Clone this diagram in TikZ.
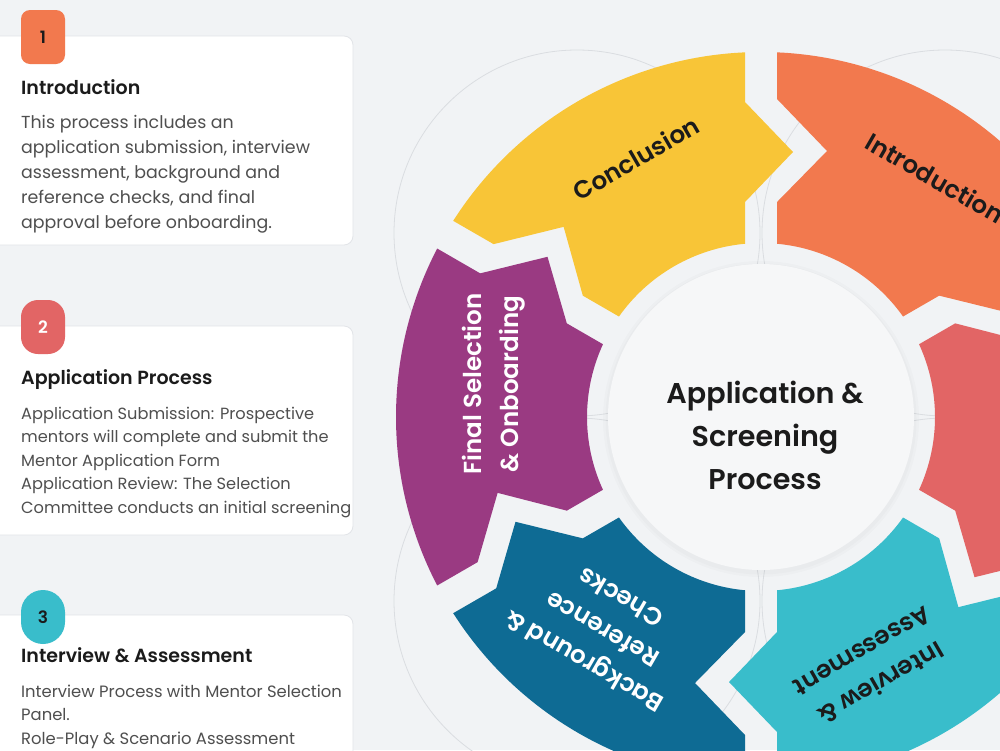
\documentclass[tikz,border=0pt]{standalone}
\usepackage{fontspec}
\setmainfont{Poppins}
\newfontfamily\popmed{Poppins Medium}
\newfontfamily\popsemi{Poppins SemiBold}
\usetikzlibrary{calc}
\definecolor{bg}{HTML}{F1F3F5}
\definecolor{ctrfill}{HTML}{F6F7F8}
\definecolor{cardline}{HTML}{E2E4E8}
\definecolor{faint}{HTML}{DADDE1}
\definecolor{cOrange}{HTML}{F2794E}
\definecolor{cYellow}{HTML}{F8C537}
\definecolor{cPurple}{HTML}{9A3A82}
\definecolor{cBlue}{HTML}{0E6B94}
\definecolor{cCyan}{HTML}{39BDCB}
\definecolor{cRed}{HTML}{E26565}
\definecolor{ink}{HTML}{1B1B1B}
\definecolor{bodyc}{HTML}{4F4F4F}
\tikzset{
  card/.style={fill=white, draw=cardline, line width=0.8pt, rounded corners=9pt},
  badge/.style={minimum width=44pt, minimum height=54pt, inner sep=0pt, font=\fontsize{17}{20}\selectfont\popsemi},
  ctitle/.style={anchor=base west, inner sep=0pt, font=\fontsize{19}{22}\selectfont\popsemi, text=ink},
  cbody/.style={anchor=north west, inner sep=0pt, align=left, text=bodyc},
  segtext/.style={font=\fontsize{24.6}{37}\selectfont\popsemi, align=center, inner sep=0pt},
  ctrtext/.style={font=\fontsize{28.6}{43}\selectfont\popsemi, align=center, inner sep=0pt, text=ink},
  faintc/.style={draw=faint, line width=0.8pt},
}
\begin{document}
\begin{tikzpicture}[x=1pt,y=-1pt]
\useasboundingbox (0,0) rectangle (1000,750);
\clip (0,0) rectangle (1000,750);
\fill[bg] (0,0) rectangle (1000,750);

% ---------- cards ----------
\draw[card] (-10,36) rectangle (353,245);
\node[badge, fill=cOrange, rounded corners=9pt, text=ink] (b1) at (43,37) {1};
\node[ctitle] (t1) at (21,94.5) {Introduction};
\node[cbody, font=\fontsize{17.4}{25}\selectfont] (d1) at (21,115.5) {This process includes an\\application submission, interview\\assessment, background and\\reference checks, and final\\approval before onboarding.};

\draw[card] (-10,326) rectangle (353,535);
\node[badge, fill=cRed, rounded corners=17pt, text=white] (b2) at (43,327) {2};
\node[ctitle] (t2) at (21,384.5) {Application Process};
\node[cbody, font=\fontsize{16.2}{23.5}\selectfont] (d2) at (21,406.5) {Application Submission: Prospective\\mentors will complete and submit the\\Mentor Application Form\\Application Review: The Selection\\Committee conducts an initial screening};

\draw[card] (-10,615) rectangle (353,780);
\node[badge, fill=cCyan, rounded corners=22pt, text=ink] (b3) at (43,617) {3};
\node[ctitle] (t3) at (21,662.5) {Interview \& Assessment};
\node[cbody, font=\fontsize{16.4}{23.5}\selectfont] (d3) at (21,684.5) {Interview Process with Mentor Selection\\Panel.\\Role-Play \& Scenario Assessment};

% ---------- faint decorative circles ----------
\draw[faintc] (577,233) circle[radius=183];
\draw[faintc] (945,233) circle[radius=183];
\draw[faintc] (577,601) circle[radius=183];
\draw[faintc] (945,601) circle[radius=183];

% ---------- centre ----------
\coordinate (ctr) at (761,417);
\fill[black, opacity=0.015] (761,419) circle[radius=158];
\fill[black, opacity=0.015] (761,419) circle[radius=155.5];
\fill[ctrfill] (ctr) circle[radius=153];

% ---------- ring segments ----------
\begin{scope}[shift={(ctr)}, y=1pt]
  \foreach \a/\c in {30/cOrange, 90/cYellow, 150/cPurple, 210/cBlue, 270/cCyan, 330/cRed} {
    \fill[\c, rotate=\a] (173.26,16) -- (215,16) -- (265,-32) -- (315,16) -- (364.65,16)
      arc[start angle=2.51, end angle=57.49, radius=365]
      -- (172.86,267.39) -- (190.16,197.36) -- (121.36,178.19) -- (100.49,142.04)
      arc[start angle=54.72, end angle=5.28, radius=174] -- cycle;
  }
\end{scope}

% ---------- labels ----------
\node[ctrtext] (ctrlabel) at (765,435) {Application \&\\Screening\\Process};
\node[segtext, text=ink, rotate=30] (tConc) at (636,158) {Conclusion};
\node[segtext, text=ink, rotate=-30] (tIntro) at (935,178) {Introduction};
\node[segtext, text=white, rotate=90] (tFinal) at (494,384) {Final Selection\\\& Onboarding};
\node[segtext, text=white, rotate=150] (tBack) at (602,630) {Background \&\\Reference\\Checks};
\node[segtext, text=ink, rotate=210] (tInt) at (872,668) {Interview \&\\Assessment};
\end{tikzpicture}
\end{document}
